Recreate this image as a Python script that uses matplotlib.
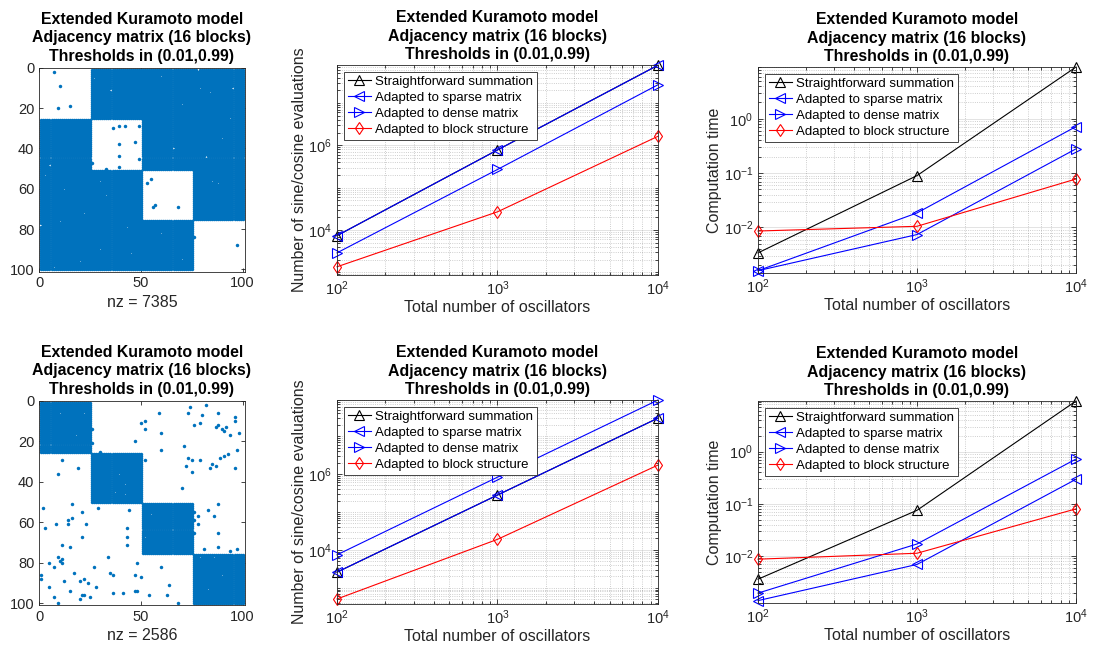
import numpy as np
import matplotlib
matplotlib.use("Agg")
import matplotlib.pyplot as plt
from matplotlib.ticker import LogLocator, LogFormatterMathtext, NullFormatter, FixedLocator

plt.rcParams['font.family'] = ['Liberation Sans', 'DejaVu Sans']
plt.rcParams['mathtext.default'] = 'regular'

# ---------------- data ----------------
N = [100, 1000, 10000]
labels = ["Straightforward summation", "Adapted to sparse matrix",
          "Adapted to dense matrix", "Adapted to block structure"]

# top row: dense off-diagonal blocks
top_eval_straight = [7385, 7.8e5, 7.8e7]
top_eval_sparse = [7385, 7.8e5, 7.8e7]
top_eval_dense = [2.9e3, 2.7e5, 2.7e7]
top_eval_block = [1.36e3, 2.7e4, 1.64e6]

top_time_straight = [3.4e-3, 0.09, 9.0]
top_time_sparse = [1.6e-3, 0.0185, 0.72]
top_time_dense = [1.6e-3, 0.0074, 0.28]
top_time_block = [8.6e-3, 0.0105, 0.078]

# bottom row: dense diagonal blocks
bot_eval_straight = [2586, 2.8e5, 3.0e7]
bot_eval_sparse = [2586, 2.8e5, 3.0e7]
bot_eval_dense = [7414, 8.3e5, 9.0e7]
bot_eval_block = [507, 1.9e4, 1.73e6]

bot_time_straight = [3.6e-3, 0.075, 9.3]
bot_time_sparse = [1.4e-3, 6.9e-3, 0.295]
bot_time_dense = [1.95e-3, 0.017, 0.72]
bot_time_block = [8.7e-3, 0.0113, 0.080]

# adjacency matrices (4x4 blocks of size 25)
block_size = 25
top_block_pattern = [[0, 1, 1, 1], [1, 0, 1, 1], [1, 1, 0, 1], [1, 1, 1, 0]]
bot_block_pattern = [[1, 0, 0, 0], [0, 1, 0, 0], [0, 0, 1, 0], [0, 0, 0, 1]]
nz_top = 7385
nz_bot = 2586

# (row, col), 1-based
top_extra = [(2, 7), (9, 10), (20, 9), (19, 15), (30, 36), (29, 39), (29, 42), (29, 49),
             (38, 39), (37, 47), (44, 39), (45, 49), (47, 26), (49, 39), (50, 33),
             (55, 55), (57, 53), (68, 57), (69, 56), (69, 68), (84, 76), (88, 97)]
top_holes = [(5, 27), (11, 35), (1, 78), (10, 79), (10, 95), (25, 94), (48, 5), (53, 3),
             (56, 30), (56, 85), (57, 88), (76, 10), (72, 22), (90, 30), (96, 20), (99, 7),
             (78, 1), (79, 43), (85, 86), (12, 84), (40, 66), (44, 82), (63, 33), (92, 45),
             (4, 60), (18, 70), (35, 90), (60, 12), (82, 60), (95, 70)]

bot_extra = [(14, 26), (21, 26), (25, 30), (11, 50), (20, 47), (29, 11), (33, 19), (36, 9),
             (51, 16), (29, 52),
             (6, 59), (3, 74), (2, 82), (6, 73), (7, 80), (6, 88), (8, 96), (10, 96), (10, 52),
             (14, 52), (12, 76), (11, 79), (13, 87), (12, 88), (14, 90), (15, 91), (13, 92),
             (17, 94), (16, 98), (16, 60), (22, 71), (24, 97), (24, 60), (28, 73), (29, 75),
             (29, 79), (28, 89), (27, 91), (26, 93), (32, 72), (31, 85), (33, 84), (32, 87),
             (33, 96), (35, 75), (43, 70), (51, 88),
             (53, 2), (53, 29), (55, 21), (54, 44), (59, 14), (58, 16), (61, 8), (61, 14),
             (61, 23), (63, 3), (63, 43), (67, 21), (67, 43), (71, 11), (72, 15), (71, 43),
             (77, 34), (77, 9), (78, 11), (79, 10), (80, 11), (80, 5), (82, 7), (82, 27),
             (80, 48), (85, 17), (85, 35), (86, 36), (86, 47), (87, 50), (86, 1), (88, 1),
             (89, 12), (89, 20), (88, 22), (90, 24), (92, 5), (92, 28), (94, 15), (95, 36),
             (95, 41), (94, 47), (94, 48), (96, 21), (96, 22), (97, 25), (98, 20), (97, 7),
             (100, 9),
             (55, 76), (54, 83), (57, 78), (57, 86), (59, 76), (61, 78), (65, 76), (65, 88),
             (72, 88), (73, 81), (74, 94), (73, 97), (82, 60), (91, 64), (96, 54), (96, 63),
             (100, 68)]
bot_holes = [(6, 10), (6, 22), (17, 18), (36, 39), (41, 42), (45, 37), (46, 42), (56, 55),
             (67, 52), (77, 79), (77, 86), (86, 90), (93, 83)]

# ---------------- styling ----------------
W, H = 1093, 649
AX_COL = '#262626'
SPY_COL = '#0072BD'
TITLE = "Extended Kuramoto model\nAdjacency matrix (16 blocks)\nThresholds in (0.01,0.99)"
TITLE_SIZE = 11.4
LABEL_SIZE = 11.5
TICK_SIZE = 10.5


def pos(l, t, r, b):
    return [l / W, 1 - b / H, (r - l) / W, (b - t) / H]


def build_matrix(pattern, extra, holes):
    M = np.kron(np.array(pattern), np.ones((block_size, block_size)))
    for r, c in holes:
        M[r - 1, c - 1] = 0
    for r, c in extra:
        M[r - 1, c - 1] = 1
    return M


def spy_axes(fig, rect, M, nz):
    ax = fig.add_axes(rect)
    rows, cols = np.nonzero(M)
    ax.plot(cols + 1, rows + 1, 'o', color=SPY_COL, markersize=2.5, markeredgewidth=0,
            linestyle='none')
    n = M.shape[0]
    ax.set_xlim(0, n + 1)
    ax.set_ylim(n + 1, 0)
    ax.set_xticks([0, 50, 100])
    ax.set_yticks([0, 20, 40, 60, 80, 100])
    ax.tick_params(direction='in', top=True, right=True, labelsize=TICK_SIZE, colors=AX_COL,
                   length=3, width=0.6)
    for s in ax.spines.values():
        s.set_color(AX_COL)
        s.set_linewidth(0.6)
    ax.set_xlabel(f"nz = {nz}", fontsize=LABEL_SIZE, color=AX_COL, labelpad=3)
    ax.set_title(TITLE, fontsize=TITLE_SIZE, fontweight='bold', linespacing=1.3, pad=5)
    return ax


def line_axes(fig, rect, series, ylim, ylabel, major_base):
    ax = fig.add_axes(rect)
    styles = [('^', 'black'), ('<', 'blue'), ('>', 'blue'), ('d', 'red')]
    for (m, c), vals, lab in zip(styles, series, labels):
        ax.plot(N, vals, marker=m, color=c, markerfacecolor='none', markersize=6.5,
                markeredgewidth=0.8, linewidth=0.8, label=lab, clip_on=False)
    ax.set_xscale('log')
    ax.set_yscale('log')
    ax.set_xlim(100, 1e4)
    ax.set_ylim(*ylim)
    ax.xaxis.set_major_locator(FixedLocator([1e2, 1e3, 1e4]))
    ax.xaxis.set_major_formatter(LogFormatterMathtext())
    ax.xaxis.set_minor_locator(LogLocator(base=10, subs=np.arange(2, 10), numticks=20))
    ax.xaxis.set_minor_formatter(NullFormatter())
    ax.yaxis.set_major_locator(LogLocator(base=major_base, numticks=20))
    ax.yaxis.set_major_formatter(LogFormatterMathtext())
    subs = np.arange(1, 10) if major_base == 100 else np.arange(2, 10)
    ax.yaxis.set_minor_locator(LogLocator(base=10, subs=subs, numticks=30))
    ax.yaxis.set_minor_formatter(NullFormatter())
    ax.grid(True, which='major', color=AX_COL, alpha=0.15, linewidth=0.6)
    ax.grid(True, which='minor', color=AX_COL, alpha=0.3, linewidth=0.6, linestyle=':')
    ax.set_axisbelow(True)
    ax.tick_params(which='both', direction='in', top=True, right=True, colors=AX_COL,
                   width=0.6)
    ax.tick_params(which='major', length=3.5, labelsize=TICK_SIZE)
    ax.tick_params(which='minor', length=2)
    for s in ax.spines.values():
        s.set_color(AX_COL)
        s.set_linewidth(0.6)
    ax.set_xlabel("Total number of oscillators", fontsize=LABEL_SIZE, color=AX_COL,
                  labelpad=1)
    ax.set_ylabel(ylabel, fontsize=LABEL_SIZE, color=AX_COL, labelpad=1)
    ax.set_title(TITLE, fontsize=TITLE_SIZE, fontweight='bold', linespacing=1.3, pad=4)
    leg = ax.legend(loc='upper left', fontsize=9.5, frameon=True, fancybox=False,
                    edgecolor=AX_COL, framealpha=1, borderpad=0.3, labelspacing=0.28,
                    handlelength=1.75, handletextpad=0.3, borderaxespad=0.5)
    leg.get_frame().set_linewidth(0.6)
    return ax


fig = plt.figure(figsize=(W / 100, H / 100), dpi=100)

M_top = build_matrix(top_block_pattern, top_extra, top_holes)
M_bot = build_matrix(bot_block_pattern, bot_extra, bot_holes)

spy_axes(fig, pos(39.3, 67.7, 244.7, 271.5), M_top, nz_top)
spy_axes(fig, pos(39.3, 401, 244.7, 605.4), M_bot, nz_bot)

line_axes(fig, pos(337, 65, 658, 275),
          [top_eval_straight, top_eval_sparse, top_eval_dense, top_eval_block],
          (870, 7.9e7), "Number of sine/cosine evaluations", 100)
line_axes(fig, pos(758, 67, 1076, 273),
          [top_time_straight, top_time_sparse, top_time_dense, top_time_block],
          (1.45e-3, 9.0), "Computation time", 10)
line_axes(fig, pos(337, 400, 658, 604),
          [bot_eval_straight, bot_eval_sparse, bot_eval_dense, bot_eval_block],
          (374, 9.0e7), "Number of sine/cosine evaluations", 100)
line_axes(fig, pos(758, 401, 1076, 603),
          [bot_time_straight, bot_time_sparse, bot_time_dense, bot_time_block],
          (1.26e-3, 9.3), "Computation time", 10)

fig.savefig("out.png", dpi=100)
